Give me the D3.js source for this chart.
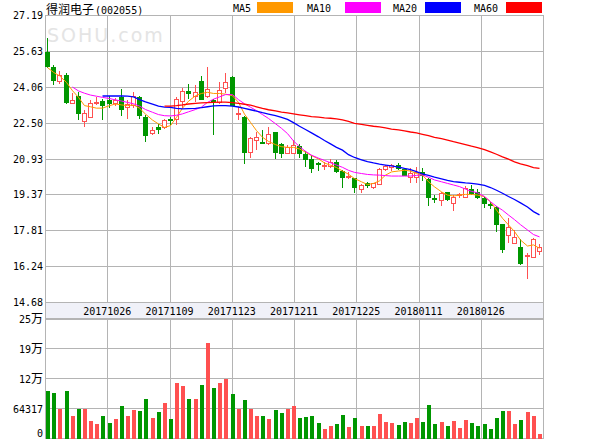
<!DOCTYPE html>
<html><head><meta charset="utf-8">
<script src="https://cdn.jsdelivr.net/npm/d3@7"></script>
<style>body{margin:0;background:#fff}svg{display:block}</style>
</head><body><svg id="c" width="600" height="440"></svg>
<script>
const stockName = "得润电子";
const stockCode = "(002055)";
const opens = [25.56,24.94,24.33,24.58,23.34,23.66,22.59,22.76,23.34,23.46,
23.49,23.34,23.60,23.17,23.27,23.60,22.76,22.06,22.29,22.32,
22.66,22.64,23.46,23.89,23.66,24.31,23.66,23.50,23.41,23.99,
24.50,22.88,22.76,21.20,21.74,21.65,21.60,22.11,21.55,21.19,
21.19,21.48,21.14,20.90,20.72,20.60,20.61,20.77,20.41,20.12,
20.07,19.59,19.86,19.68,19.81,20.46,20.55,20.65,20.46,20.14,
20.14,20.36,20.03,19.21,19.13,19.46,19.01,19.36,19.27,19.59,
19.49,19.20,18.97,18.81,18.08,17.60,17.27,17.09,16.72,16.66,
16.92];
const highs = [26.17,25.01,24.75,24.68,23.78,23.85,23.05,23.49,23.63,23.52,
23.66,23.56,23.95,23.49,23.85,23.66,22.83,22.29,22.44,22.67,
22.73,23.60,23.99,24.17,24.14,24.53,24.94,23.53,24.29,24.68,
24.55,23.17,22.78,21.86,22.11,22.18,22.29,22.11,21.63,21.52,
21.74,21.57,21.25,21.09,20.80,20.80,20.90,20.87,20.43,20.36,
20.09,19.82,19.93,19.88,20.51,20.65,20.70,20.72,20.51,20.51,
20.55,20.51,20.07,19.35,19.49,19.49,19.35,19.45,19.74,19.78,
19.59,19.27,19.05,18.87,18.08,18.33,17.82,17.41,16.80,17.46,
17.19];
const lows = [24.94,24.17,24.21,23.34,23.34,22.66,22.35,22.76,23.31,22.66,
23.20,23.27,22.83,22.69,23.17,22.69,21.71,22.00,22.03,22.25,
22.44,22.44,23.17,23.56,23.46,23.51,23.60,22.00,23.34,23.85,
23.25,22.64,20.75,21.02,21.34,21.60,21.57,20.94,21.02,21.16,
21.16,21.02,20.62,20.36,20.43,20.46,20.55,20.36,19.68,20.10,
19.49,19.49,19.68,19.64,19.81,20.43,20.43,20.48,20.22,19.90,
19.93,20.00,18.91,19.05,18.91,19.13,18.69,19.27,19.27,19.37,
19.20,18.84,18.76,17.79,16.87,17.31,17.27,16.34,15.74,16.66,
16.77];
const closes = [24.98,24.36,24.58,23.41,23.49,22.93,22.91,23.34,23.41,23.27,
23.37,23.49,23.08,23.31,23.66,22.83,21.96,22.18,22.21,22.61,
22.63,23.52,23.89,23.81,23.85,23.55,23.95,23.46,23.92,24.27,
23.27,22.93,21.23,21.82,21.89,21.62,22.00,21.23,21.19,21.42,
21.52,21.16,20.90,20.51,20.68,20.63,20.80,20.41,20.12,20.17,
19.68,19.78,19.80,19.85,20.48,20.61,20.65,20.51,20.22,20.32,
20.36,20.22,19.27,19.19,19.42,19.17,19.27,19.38,19.64,19.42,
19.24,18.98,18.95,18.08,16.98,17.94,17.50,16.37,16.75,17.41,
17.06];
const volumes = [102340,97950,63600,102340,49710,63600,63600,38740,32160,49710,
34360,43130,71640,49710,61400,60670,84800,45320,58480,78220,
43130,119880,113300,84800,84800,115500,205400,108900,119880,128660,
95760,65060,82600,65060,49710,49710,43130,62870,56290,65060,
71640,45320,47520,49710,34360,21200,27780,32160,51900,25590,
45320,27780,27780,27780,54090,36550,34360,29970,36550,34360,
45320,36550,73830,32160,36550,27780,38740,23390,40940,34360,
27780,32160,21200,45320,60670,60670,32160,40940,58480,49710,
10230];
const ma5 = [24.90,24.69,24.54,24.25,23.89,23.60,23.24,23.19,23.13,23.13,
23.24,23.31,23.27,23.24,23.27,23.13,22.87,22.61,22.44,22.29,
22.37,22.73,23.13,23.43,23.67,23.77,23.82,23.77,23.77,23.74,
23.67,23.38,22.87,22.51,22.15,21.86,21.68,21.54,21.45,21.42,
21.42,21.35,21.21,21.06,20.92,20.74,20.64,20.54,20.39,20.25,
20.06,19.92,19.80,19.85,19.96,20.21,20.35,20.39,20.42,20.39,
20.28,20.21,19.92,19.70,19.48,19.34,19.30,19.34,19.37,19.37,
19.34,19.27,19.05,18.69,18.33,18.04,17.75,17.38,17.12,17.17,
17.02];
const ma10 = [null,null,null,null,24.05,23.88,23.78,23.70,23.65,23.60,
23.55,23.49,23.44,23.38,23.32,23.22,23.07,22.95,22.85,22.80,
22.79,22.82,22.88,22.97,23.07,23.18,23.38,23.52,23.62,23.72,
23.72,23.50,23.32,23.17,23.02,22.85,22.68,22.45,22.25,22.02,
21.70,21.45,21.25,21.08,20.95,20.85,20.75,20.65,20.55,20.42,
20.33,20.28,20.24,20.22,20.21,20.19,20.17,20.17,20.17,20.17,
20.20,20.22,20.12,20.00,19.92,19.85,19.78,19.71,19.60,19.50,
19.44,19.28,19.05,18.85,18.68,18.47,18.27,18.05,17.82,17.62,
17.52];
const ma20 = [null,null,null,null,null,null,null,null,null,23.66,
23.66,23.66,23.66,23.65,23.62,23.50,23.40,23.31,23.22,23.17,
23.16,23.12,23.10,23.11,23.12,23.15,23.19,23.23,23.24,23.24,
23.22,23.18,23.12,23.06,23.00,22.93,22.87,22.80,22.73,22.64,
22.50,22.34,22.20,22.05,21.88,21.72,21.57,21.42,21.30,21.10,
20.98,20.88,20.80,20.74,20.69,20.65,20.61,20.56,20.50,20.45,
20.36,20.26,20.20,20.12,20.05,19.98,19.93,19.90,19.87,19.85,
19.82,19.76,19.67,19.55,19.42,19.28,19.15,19.00,18.82,18.62,
18.48];
const ma60 = [null,null,null,null,null,null,null,null,null,null,
null,null,null,null,null,null,null,null,null,23.22,
23.22,23.24,23.27,23.31,23.34,23.36,23.37,23.38,23.39,23.39,
23.37,23.34,23.30,23.26,23.19,23.12,23.06,23.01,22.96,22.92,
22.88,22.84,22.80,22.76,22.74,22.71,22.69,22.66,22.62,22.55,
22.47,22.42,22.38,22.34,22.31,22.27,22.22,22.18,22.14,22.09,
22.05,21.99,21.93,21.86,21.80,21.74,21.67,21.61,21.54,21.47,
21.41,21.32,21.22,21.12,21.01,20.91,20.79,20.70,20.62,20.54,
20.50];
const dateLabels = ["20171026","20171109","20171123","20171211","20171225","20180111","20180126"];
const priceTicks = [27.19,25.63,24.06,22.50,20.93,19.37,17.81,16.24,14.68];
const priceTickLabels = ["27.19","25.63","24.06","22.50","20.93","19.37","17.81","16.24","14.68"];
const volTicks = [257268,192951,128634,64317,0];
const volTickLabels = ["25万","19万","12万","64317","0"];
const maNames = ["MA5","MA10","MA20","MA60"];
const maColors = ["#ff9900","#ff00ff","#0000ff","#ff0000"];
const maSeries = [ma5, ma10, ma20, ma60];

const RED = "#ff5050", GREEN = "#009600", GRID = "#b4b4b4";
const L = 45, R = 543, T = 15, B = 302, VT = 319, VB = 439;
const svg = d3.select("#c");
const n = closes.length;
const x = d3.scaleBand().domain(d3.range(n)).range([44, 542]);
const cx = i => Math.round(x(i) + x.bandwidth() / 2);
const y = d3.scaleLinear().domain([14.68, 27.19]).range([B, T]);
const yv = d3.scaleLinear().domain([0, 257268]).range([VB, VT]);
const gx = d3.scaleLinear().domain([0, 8]).range([L, R]);
const px = v => Math.round(v) + 0.5;

// date band
svg.append("rect").attr("x", L).attr("y", B).attr("width", R - L).attr("height", VT - B).attr("fill", "#f0f1f8");

// watermark
svg.append("text").attr("x", 47).attr("y", 42).attr("fill", "#e4e4e4")
  .attr("font-family", "DejaVu Sans").attr("font-size", 19).attr("letter-spacing", 2).text("SOHU.com");

const grid = svg.append("g").attr("stroke", GRID).attr("stroke-width", 1).attr("shape-rendering", "crispEdges");
priceTicks.forEach(v => grid.append("line").attr("x1", L).attr("x2", R).attr("y1", px(y(v))).attr("y2", px(y(v))));
volTicks.forEach(v => grid.append("line").attr("x1", L).attr("x2", R).attr("y1", px(yv(v)) - 1).attr("y2", px(yv(v)) - 1));
d3.range(9).forEach(k => {
  grid.append("line").attr("x1", px(gx(k))).attr("x2", px(gx(k))).attr("y1", T).attr("y2", B);
  grid.append("line").attr("x1", px(gx(k))).attr("x2", px(gx(k))).attr("y1", VT).attr("y2", VB);
});
grid.append("line").attr("x1", L).attr("x2", R).attr("y1", px(VT)).attr("y2", px(VT));
grid.append("line").attr("x1", px(L)).attr("x2", px(L)).attr("y1", B).attr("y2", VT);
grid.append("line").attr("x1", px(R)).attr("x2", px(R)).attr("y1", B).attr("y2", VT);

// axis labels
const lab = svg.append("g").attr("font-family", "DejaVu Sans Mono").attr("font-size", 10).attr("fill", "#000");
priceTicks.forEach((v, k) => {
  lab.append("text").attr("x", 43).attr("y", y(v) + 4).attr("text-anchor", "end").text(priceTickLabels[k]);
});
volTicks.forEach((v, k) => {
  const t = lab.append("text").attr("x", 43).attr("y", Math.min(yv(v) + 4, 437)).attr("text-anchor", "end");
  const s = volTickLabels[k];
  if (s.endsWith("万")) {
    t.append("tspan").text(s.slice(0, -1));
    t.append("tspan").attr("font-family", "Noto Sans CJK SC").attr("font-size", 12).text("万");
  } else t.text(s);
});
dateLabels.forEach((d, k) => {
  lab.append("text").attr("x", gx(k + 1)).attr("y", 315).attr("text-anchor", "middle").text(d);
});

// title
const tt = svg.append("text").attr("x", 46).attr("y", 14);
tt.append("tspan").attr("font-family", "Noto Sans CJK SC").attr("font-size", 12).text(stockName);
tt.append("tspan").attr("font-family", "DejaVu Sans Mono").attr("font-size", 10).attr("dx", 1).text(stockCode);

// legend
const legX = [233, 307, 393, 474], swX = [257, 345, 425, 506];
maNames.forEach((m, k) => {
  svg.append("text").attr("x", legX[k]).attr("y", 12).attr("font-family", "DejaVu Sans Mono").attr("font-size", 10).text(m);
  svg.append("rect").attr("x", swX[k]).attr("y", 2).attr("width", 36).attr("height", 11).attr("fill", maColors[k]);
});

// candles
const cg = svg.append("g").attr("shape-rendering", "crispEdges");
d3.range(n).forEach(i => {
  const o = opens[i], c = closes[i], up = c >= o;
  const col = up ? RED : GREEN;
  const xc = cx(i);
  cg.append("line").attr("x1", xc + 0.5).attr("x2", xc + 0.5)
    .attr("y1", Math.round(y(highs[i]))).attr("y2", Math.round(y(lows[i])) + 1).attr("stroke", col);
  const top = Math.round(y(Math.max(o, c))), bot = Math.round(y(Math.min(o, c)));
  if (up) {
    cg.append("rect").attr("x", xc - 1.5).attr("y", top + 0.5).attr("width", 4).attr("height", Math.max(bot - top, 1))
      .attr("fill", "#fff").attr("stroke", col);
  } else {
    cg.append("rect").attr("x", xc - 2).attr("y", top).attr("width", 5).attr("height", Math.max(bot - top, 1) + 1)
      .attr("fill", col);
  }
  // volume
  cg.append("rect").attr("x", xc - 1.5).attr("y", Math.round(yv(volumes[i]))).attr("width", 4)
    .attr("height", Math.round(yv(0)) - Math.round(yv(volumes[i]))).attr("fill", col);
});

// moving averages
maSeries.forEach((s, k) => {
  const line = d3.line().defined(d => d != null).x((d, i) => cx(i) + 0.5).y(d => y(d));
  svg.append("path").datum(s).attr("d", line).attr("fill", "none").attr("stroke", maColors[k]).attr("stroke-width", k < 2 ? 1 : 1.3);
});
</script></body></html>
